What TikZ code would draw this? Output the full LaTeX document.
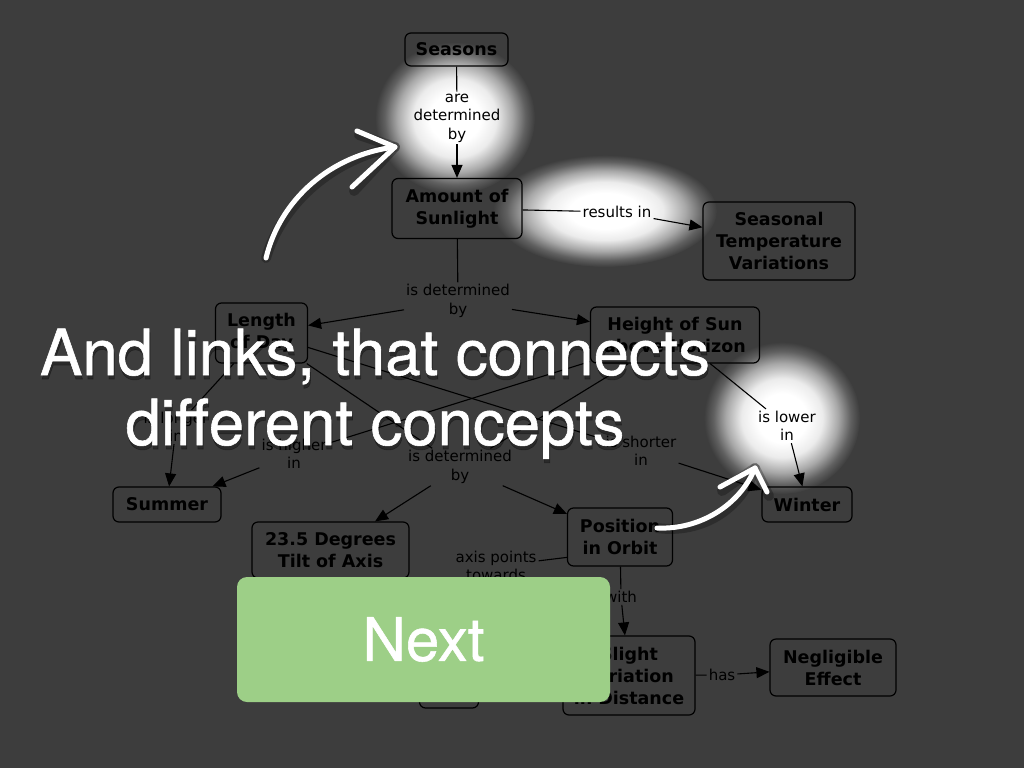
\documentclass[tikz,border=0pt]{standalone}
\usepackage{fontspec}
\usetikzlibrary{arrows.meta}
\newfontfamily\mapfont{DejaVu Sans}
\newfontfamily\slidefont[FakeBold=0.9]{TeX Gyre Heros}
\definecolor{slidebg}{RGB}{61,61,61}
\definecolor{slidegreen}{RGB}{157,207,135}
\colorlet{glowhi}{white!90!slidebg}
\colorlet{glowmid}{white!55!slidebg}
\colorlet{glowlow}{white!18!slidebg}
\pgfdeclareradialshading{glow}{\pgfpoint{0bp}{0bp}}{color(0bp)=(white); color(8bp)=(white); color(13bp)=(glowhi); color(18bp)=(glowmid); color(22bp)=(glowlow); color(25bp)=(slidebg); color(50bp)=(slidebg)}

\begin{document}
\begin{tikzpicture}[x=1pt, y=-1pt,
		concept/.style={rectangle, rounded corners=6pt, draw=black, line width=1.2pt,
			font=\mapfont\fontsize{17.5}{22}\selectfont\bfseries, align=center, inner sep=0pt},
		linkword/.style={font=\mapfont\fontsize{15}{18.5}\selectfont, align=center,
			inner sep=2pt, text=black},
		link/.style={draw=black, line width=1.1pt},
		linkto/.style={link, -{Triangle[length=13pt, width=11pt]}},
		scribble/.style={draw=white, line width=5pt, line cap=round, line join=round},
		scribbleshade/.style={draw=black, opacity=0.25, line width=10pt, line cap=round, line join=round},
		headline/.style={font=\slidefont\fontsize{63.5}{70}\selectfont, inner sep=0pt, anchor=base}
	]
		\useasboundingbox (0,0) rectangle (1024,768);
		\fill[slidebg] (0,0) rectangle (1024,768);
		% highlights
		\shade[shading=glow] (455,118) ellipse [x radius=80pt, y radius=76pt];
		\shade[shading=glow] (605,211) ellipse [x radius=112pt, y radius=56pt];
		\shade[shading=glow] (782,418) ellipse [x radius=78pt, y radius=76pt];
		% concepts
		\node[concept, minimum width=103pt, minimum height=33pt] (seasons) at (456.5,49.5) {Seasons};
		\node[concept, minimum width=130pt, minimum height=60pt] (sunlight) at (457,208.5) {Amount of\\Sunlight};
		\node[concept, minimum width=152pt, minimum height=78pt] (tempvar) at (779,241) {Seasonal\\Temperature\\Variations};
		\node[concept, minimum width=92pt, minimum height=60pt] (daylen) at (261.5,333) {Length\\of Day};
		\node[concept, minimum width=169pt, minimum height=56pt] (sunheight) at (675,335) {Height of Sun\\above Horizon};
		\node[concept, minimum width=108pt, minimum height=35pt] (summer) at (167,504.5) {Summer};
		\node[concept, minimum width=90pt, minimum height=35pt] (winter) at (807,504.5) {Winter};
		\node[concept, minimum width=157pt, minimum height=56pt] (tilt) at (330.5,550) {23.5 Degrees\\Tilt of Axis};
		\node[concept, minimum width=105pt, minimum height=58pt] (orbit) at (620,537) {Position\\in Orbit};
		\node[concept, minimum width=132pt, minimum height=79pt] (distance) at (629,675.5) {Slight\\Variation\\in Distance};
		\node[concept, minimum width=126pt, minimum height=57pt] (negligible) at (833,667.5) {Negligible\\Effect};
		\node[concept, minimum width=59pt, minimum height=36pt] (polestar) at (449,690) {};
		% linking words
		\node[linkword] (w1) at (457,118) {are\\determined\\by};
		\node[linkword] (w2) at (617,212) {results in};
		\node[linkword] (w3) at (458,301) {is determined\\by};
		\node[linkword] (w4) at (176,427) {is longer\\in};
		\node[linkword] (w5) at (294,454) {is higher\\in};
		\node[linkword] (w6) at (641,451) {is shorter\\in};
		\node[linkword] (w7) at (787,426) {is lower\\in};
		\node[linkword] (w8) at (460,467) {is determined\\by};
		\node[linkword] (w9) at (496,566) {axis points\\towards};
		\node[linkword] (w10) at (621,597) {with};
		\node[linkword] (w11) at (722,675) {has};
		% links
		\draw[link] (seasons) -- (w1);
		\draw[linkto] (w1) -- (sunlight);
		\draw[link] (sunlight) -- (w2);
		\draw[linkto] (w2) -- (tempvar);
		\draw[link] (sunlight) -- (w3);
		\draw[linkto] (w3) -- (daylen);
		\draw[linkto] (w3) -- (sunheight);
		\draw[link] (daylen) -- (w4);
		\draw[linkto] (w4) -- (summer);
		\draw[link] (sunheight) -- (w5);
		\draw[linkto] (w5) -- (summer);
		\draw[link] (daylen) -- (w6);
		\draw[linkto] (w6) -- (winter);
		\draw[link] (sunheight) -- (w7);
		\draw[linkto] (w7) -- (winter);
		\draw[link] (daylen) -- (w8);
		\draw[link] (sunheight) -- (w8);
		\draw[linkto] (w8) -- (tilt);
		\draw[linkto] (w8) -- (orbit);
		\draw[link] (orbit.201) -- (w9);
		\draw[linkto] (w9) -- (polestar);
		\draw[link] (orbit) -- (w10);
		\draw[linkto] (w10) -- (distance);
		\draw[link] (distance) -- (w11);
		\draw[linkto] (w11) -- (negligible);
		% hand-drawn pointers
		\coordinate (p1from) at (266,258);
		\coordinate (p1tip) at (395,147);
		\coordinate (p2from) at (657,528);
		\coordinate (p2tip) at (755,468);
		\begin{scope}[shift={(2,4)}]
			\draw[scribbleshade] (p1from) .. controls (280,200) and (330,155) .. (p1tip);
			\draw[scribbleshade] (357,131) -- (p1tip) -- (352,187);
			\draw[scribbleshade] (p2from) .. controls (700,530) and (740,505) .. (p2tip);
			\draw[scribbleshade] (720,487) -- (p2tip) -- (767,492);
		\end{scope}
		\draw[scribble] (p1from) .. controls (280,200) and (330,155) .. (p1tip);
		\draw[scribble] (357,131) -- (p1tip) -- (352,187);
		\draw[scribble] (p2from) .. controls (700,530) and (740,505) .. (p2tip);
		\draw[scribble] (720,487) -- (p2tip) -- (767,492);
		% caption
		\node[headline, text=black, opacity=0.3] (line1s) at (376,379) {And links, that connects};
		\node[headline, text=black, opacity=0.3] (line2s) at (376,449) {different concepts};
		\node[headline, text=white] (line1) at (375,375) {And links, that connects};
		\node[headline, text=white] (line2) at (375,445) {different concepts};
		% button
		\node[fill=slidegreen, rounded corners=10pt, minimum width=373pt, minimum height=125pt,
			text=white, font=\slidefont\fontsize{60}{72}\selectfont] (nextbtn) at (423.5,639.5) {Next};
	\end{tikzpicture}
\end{document}
